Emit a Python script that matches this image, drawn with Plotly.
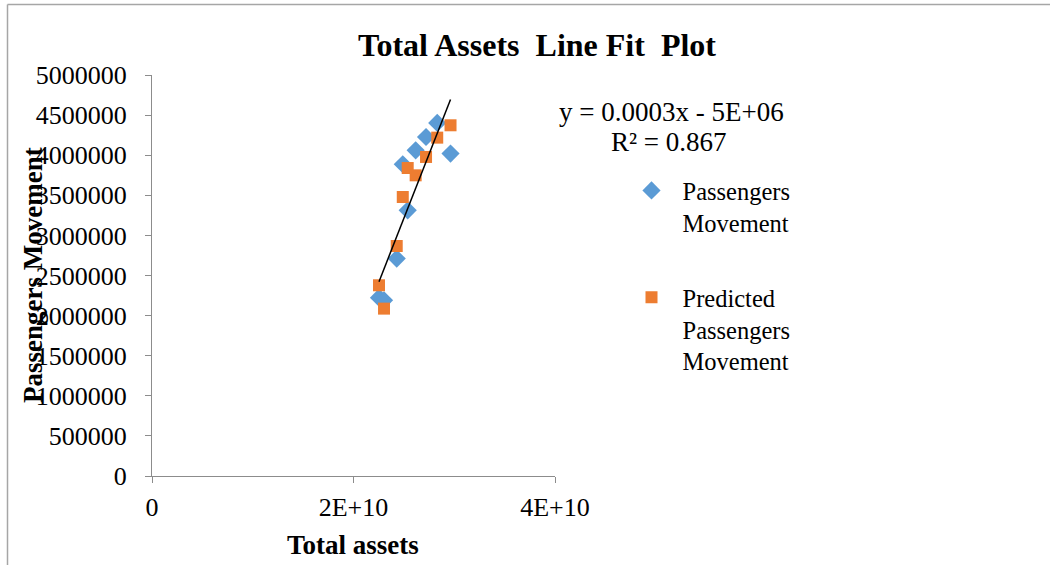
import numpy as np
import plotly.graph_objects as go

# ---- data ----
total_assets = [2.253e10, 2.303e10, 2.429e10, 2.489e10, 2.538e10, 2.617e10, 2.720e10, 2.831e10, 2.963e10]
passengers = [2224000, 2190000, 2711000, 3887000, 3313000, 4061000, 4227000, 4402000, 4020000]
predicted = [2378000, 2087000, 2868000, 3479000, 3840000, 3749000, 3978000, 4219000, 4373000]

x_tickvals = [0, 2e10, 4e10]
x_ticktext = ["0", "2E+10", "4E+10"]
y_tickvals = list(range(0, 5000001, 500000))
y_ticktext = [str(v) for v in y_tickvals]

title_text = "Total Assets  Line Fit  Plot"
x_title = "Total assets"
y_title = "Passengers Movement"
eq_line1 = "y = 0.0003x - 5E+06"
eq_line2 = "R² = 0.867"
series_names = ["Passengers<br>Movement", "Predicted<br>Passengers<br>Movement"]

# trendline (linear fit on the predicted series, as in the source chart)
slope, intercept = np.polyfit(total_assets, predicted, 1)
trend_x = [min(total_assets), max(total_assets)]
trend_y = [slope * v + intercept for v in trend_x]

FONT = "Liberation Serif, Times New Roman, serif"
BLUE = "#5B9BD5"
ORANGE = "#ED7D31"
GRAY = "#8C8C8C"

fig = go.Figure()
fig.add_trace(go.Scatter(
    x=total_assets, y=passengers, mode="markers", name=series_names[0],
    marker=dict(symbol="diamond", size=14, color=BLUE, line=dict(width=0)),
    legendgroup="a",
))
fig.add_trace(go.Scatter(
    x=total_assets, y=predicted, mode="markers", name=series_names[1],
    marker=dict(symbol="square", size=12, color=ORANGE, line=dict(width=0)),
    legendgroup="b",
))
fig.add_trace(go.Scatter(
    x=trend_x, y=trend_y, mode="lines", showlegend=False,
    line=dict(color="black", width=1.5),
))

# plot-area geometry (pixels) for placing text outside the axes
L, R, T, B = 152, 555, 75, 476
W, H = 1050, 565
def px(xp):
    return (xp - L) / (R - L)
def py(yp):
    return (B - yp) / (B - T)

fig.update_layout(
    width=W, height=H,
    margin=dict(l=L, r=W - R, t=T, b=H - B, pad=0),
    paper_bgcolor="white", plot_bgcolor="white",
    font=dict(family=FONT, size=26, color="black"),
    title=dict(text="<b>" + title_text + "</b>", x=537 / W, y=1 - 45 / H,
               xanchor="center", yanchor="middle",
               font=dict(family=FONT, size=32, color="black")),
    showlegend=True,
    legend=dict(x=px(620.5), y=py(168), xanchor="left", yanchor="top",
                valign="top", tracegroupgap=40, itemwidth=52,
                font=dict(family=FONT, size=24.5, color="black"),
                bgcolor="rgba(0,0,0,0)"),
    xaxis=dict(range=[0, 4e10], tickvals=x_tickvals, ticktext=x_ticktext,
               showgrid=False, zeroline=False, showline=True, linecolor=GRAY,
               linewidth=1, ticks="outside", ticklen=6, tickcolor=GRAY,
               ticklabelstandoff=2, tickfont=dict(size=26)),
    yaxis=dict(range=[0, 5e6], tickvals=y_tickvals, ticktext=y_ticktext,
               showgrid=False, zeroline=False, showline=True, linecolor=GRAY,
               linewidth=1, ticks="outside", ticklen=6, tickcolor=GRAY,
               ticklabelstandoff=13, tickfont=dict(size=26)),
    annotations=[
        dict(text="<b>" + x_title + "</b>", xref="paper", yref="paper",
             x=px(353), y=py(545), showarrow=False, xanchor="center", yanchor="middle",
             font=dict(family=FONT, size=27)),
        dict(text="<b>" + y_title + "</b>", xref="paper", yref="paper",
             x=px(33), y=py(275), showarrow=False, textangle=-90,
             xanchor="center", yanchor="middle", font=dict(family=FONT, size=27)),
        dict(text=eq_line1, xref="paper", yref="paper", x=px(671), y=py(112),
             showarrow=False, xanchor="center", yanchor="middle",
             font=dict(family=FONT, size=27)),
        dict(text=eq_line2, xref="paper", yref="paper", x=px(669), y=py(142),
             showarrow=False, xanchor="center", yanchor="middle",
             font=dict(family=FONT, size=27)),
    ],
    shapes=[
        dict(type="line", xref="paper", yref="paper", x0=px(7.5), x1=px(W),
             y0=py(4.5), y1=py(4.5), line=dict(color="#A6A6A6", width=1.5)),
        dict(type="line", xref="paper", yref="paper", x0=px(7.5), x1=px(7.5),
             y0=py(4.5), y1=py(H), line=dict(color="#A6A6A6", width=1.5)),
    ],
)

fig.write_html("out.html", config={"displayModeBar": False},
               post_script="document.body.style.margin='0';document.body.style.padding='0';")
